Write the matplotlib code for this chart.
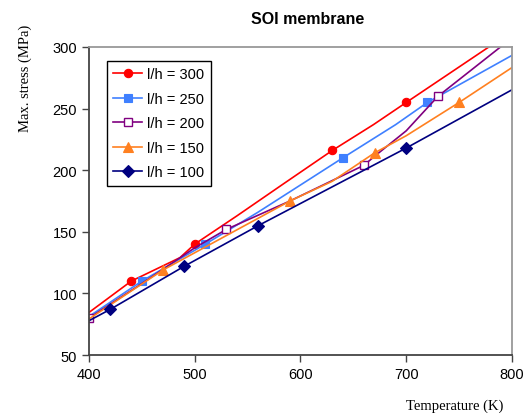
import matplotlib
matplotlib.use("Agg")
import matplotlib.pyplot as plt

# series data: line points (marker points included), marker index lists
labels = ["l/h = 300", "l/h = 250", "l/h = 200", "l/h = 150", "l/h = 100"]
colors = ["#FF0000", "#3F80FF", "#800080", "#FF8020", "#000080"]
markers = ["o", "s", "s", "^", "D"]
filled = [True, True, False, True, True]

x300 = [396, 440, 486, 500, 540, 584, 630, 669, 700, 785]
y300 = [82, 110, 129, 140, 163, 189, 216, 237, 255, 304]
m300 = [1, 3, 6, 8]

x250 = [396, 450, 510, 560, 640, 690, 720, 810]
y250 = [79, 110, 140, 166, 210, 237, 255, 298]
m250 = [1, 2, 4, 6]

x200 = [396, 400, 450, 500, 530, 590, 660, 671, 700, 730, 795]
y200 = [78, 80, 108, 137, 152, 175, 204, 212, 232, 260, 304]
m200 = [1, 4, 6, 9]

x150 = [396, 470, 530, 590, 630, 670, 700, 750, 810]
y150 = [77, 119, 147, 175, 191, 214, 228, 255, 289]
m150 = [1, 3, 5, 7]

x100 = [396, 420, 490, 560, 700, 810]
y100 = [76, 87, 122, 155, 218, 270]
m100 = [1, 2, 3, 4]

xs = [x300, x250, x200, x150, x100]
ys = [y300, y250, y200, y150, y100]
marks = [m300, m250, m200, m150, m100]
sizes = [6, 6, 5.2, 6.5, 5.8]

fig = plt.figure(figsize=(5.29, 4.14), dpi=100)
ax = fig.add_axes([89 / 529, 1 - 356 / 414, 423 / 529, 308 / 414])

for i in range(len(labels)):
    ax.plot(xs[i], ys[i], color=colors[i], lw=1.2, marker=markers[i],
            markevery=marks[i], ms=sizes[i],
            markerfacecolor=colors[i] if filled[i] else "white",
            markeredgecolor=colors[i], markeredgewidth=1.0 if not filled[i] else 0.8,
            label=labels[i], clip_on=True)

ax.set_xlim(400, 800)
ax.set_ylim(50, 300)
ax.set_xticks([400, 500, 600, 700, 800])
ax.set_yticks([50, 100, 150, 200, 250, 300])
ax.tick_params(labelsize=10.5, length=5, width=1, color="#444444", direction="out")
for lab in ax.get_xticklabels() + ax.get_yticklabels():
    lab.set_family("Liberation Sans")
for side in ["left", "bottom"]:
    ax.spines[side].set_color("#444444")
    ax.spines[side].set_linewidth(1.3)
for side in ["right", "top"]:
    ax.spines[side].set_color("#999999")
    ax.spines[side].set_linewidth(1.3)

leg = ax.legend(loc="upper left", bbox_to_anchor=(0.042, 0.955), borderaxespad=0,
                fancybox=False, framealpha=1, edgecolor="black", handlelength=2.0,
                prop={"family": "Liberation Sans", "size": 10.5},
                borderpad=0.45, labelspacing=0.72, handletextpad=0.3)
leg.get_frame().set_linewidth(1.0)

fig.text(308 / 529, 1 - 20 / 414, "SOI membrane", ha="center", va="center",
         family="Liberation Sans", fontsize=11.5, fontweight="bold")
fig.text(25 / 529, 1 - 78 / 414, "Max. stress (MPa)", rotation=90, ha="center",
         va="center", family="Liberation Serif", fontsize=10.5)
fig.text(455 / 529, 1 - 406 / 414, "Temperature (K)", ha="center", va="center",
         family="Liberation Serif", fontsize=10.5)

fig.savefig("out.png", dpi=100)
